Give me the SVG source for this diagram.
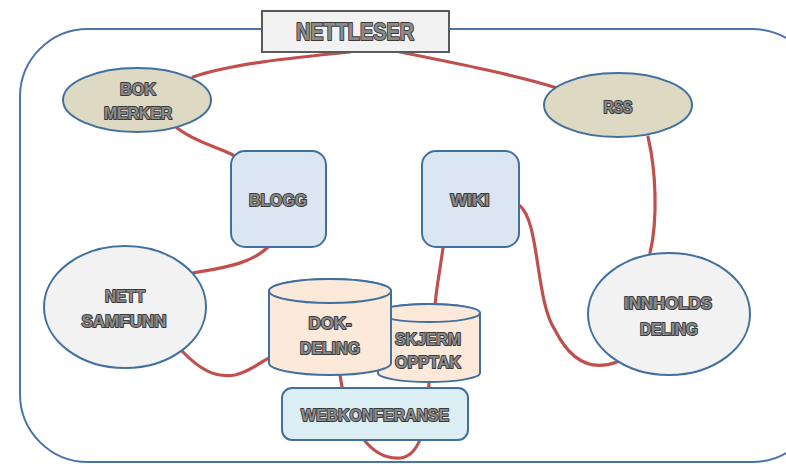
<svg xmlns="http://www.w3.org/2000/svg" width="786" height="464" viewBox="0 0 786 464">
<defs>
<style>
.lbl{font-family:"Liberation Sans",Arial,sans-serif;font-weight:bold;fill:#8a8a8a;stroke:#3a3a3a;stroke-width:2;paint-order:stroke;text-anchor:middle;stroke-linejoin:round}
.con{fill:none;stroke:#c0504d;stroke-width:3.2;stroke-linecap:round}
.nd{stroke:#41709f;stroke-width:2}
</style>
</defs>
<rect x="0" y="0" width="786" height="464" fill="#ffffff"/>
<rect id="frame" x="20" y="29" width="800" height="433" rx="68" ry="68" fill="none" stroke="#4a74a8" stroke-width="2"/>
<g id="connectors">
<path class="con" d="M350,52 C290,58 230,64 193,77"/>
<path class="con" d="M400,52 C460,64 520,76 557,88"/>
<path class="con" d="M177,128 C195,142 215,146 233,155"/>
<path class="con" d="M648,137 C656,170 658,220 650,253"/>
<path class="con" d="M519,205 C540,220 535,300 555,330 C570,360 590,372 617,362"/>
<path class="con" d="M443,248 C440,270 436,290 435,306"/>
<path class="con" d="M268,247 C250,265 220,268 193,273"/>
<path class="con" d="M181,350 C200,370 215,378 235,375 C250,372 260,362 269,358"/>
<path class="con" d="M340,375 C348,430 372,460 400,458 C422,456 428,420 429,382"/>
</g>
<g id="nettleser">
<rect x="262" y="11" width="187" height="41" fill="#f2f2f2" stroke="#5a5a5a" stroke-width="2"/>
<text class="lbl" x="355" y="40" font-size="23" textLength="118" lengthAdjust="spacingAndGlyphs">NETTLESER</text>
</g>
<g id="bokmerker">
<ellipse class="nd" cx="137" cy="100" rx="74" ry="32" fill="#ddd9c3"/>
<text class="lbl" x="138" y="95" font-size="17" textLength="36" lengthAdjust="spacingAndGlyphs">BOK</text>
<text class="lbl" x="138" y="119" font-size="17" textLength="68" lengthAdjust="spacingAndGlyphs">MERKER</text>
</g>
<g id="rss">
<ellipse class="nd" cx="618" cy="105" rx="74" ry="32" fill="#ddd9c3"/>
<text class="lbl" x="618" y="113" font-size="16" textLength="29" lengthAdjust="spacingAndGlyphs">RSS</text>
</g>
<g id="blogg">
<rect class="nd" x="231" y="151" width="95" height="96" rx="14" fill="#dce6f2"/>
<text class="lbl" x="278" y="206" font-size="17" textLength="58" lengthAdjust="spacingAndGlyphs">BLOGG</text>
</g>
<g id="wiki">
<rect class="nd" x="422" y="151" width="97" height="96" rx="14" fill="#dce6f2"/>
<text class="lbl" x="470" y="206" font-size="16" textLength="39" lengthAdjust="spacingAndGlyphs">WIKI</text>
</g>
<g id="nettsamfunn">
<ellipse class="nd" cx="125" cy="307" rx="81" ry="61" fill="#f2f2f2"/>
<text class="lbl" x="125" y="302" font-size="17" textLength="40" lengthAdjust="spacingAndGlyphs">NETT</text>
<text class="lbl" x="124" y="327" font-size="17" textLength="85" lengthAdjust="spacingAndGlyphs">SAMFUNN</text>
</g>
<g id="innholdsdeling">
<ellipse class="nd" cx="669" cy="314" rx="81" ry="61" fill="#f2f2f2"/>
<text class="lbl" x="668" y="309" font-size="17" textLength="88" lengthAdjust="spacingAndGlyphs">INNHOLDS</text>
<text class="lbl" x="669" y="335" font-size="17" textLength="58" lengthAdjust="spacingAndGlyphs">DELING</text>
</g>
<g id="skjermopptak">
<path class="nd" d="M378,313 L378,373 A51,9 0 0 0 480,373 L480,313 A51,9 0 0 0 378,313 Z" fill="#fde9d9"/>
<ellipse class="nd" cx="429" cy="313" rx="51" ry="9" fill="#fde9d9"/>
<text class="lbl" x="428" y="345" font-size="17" textLength="66" lengthAdjust="spacingAndGlyphs">SKJERM</text>
<text class="lbl" x="428" y="368" font-size="17" textLength="66" lengthAdjust="spacingAndGlyphs">OPPTAK</text>
</g>
<g id="dokdeling">
<path class="nd" d="M269,291 L269,363 A61,12 0 0 0 391,363 L391,291 A61,12 0 0 0 269,291 Z" fill="#fde9d9"/>
<ellipse class="nd" cx="330" cy="291" rx="61" ry="12" fill="#fde9d9"/>
<text class="lbl" x="330" y="329" font-size="17" textLength="43" lengthAdjust="spacingAndGlyphs">DOK-</text>
<text class="lbl" x="330" y="354" font-size="17" textLength="60" lengthAdjust="spacingAndGlyphs">DELING</text>
</g>
<g id="webkonferanse">
<rect class="nd" x="282" y="388" width="186" height="52" rx="10" fill="#dbeef4"/>
<text class="lbl" x="375" y="421" font-size="17" textLength="148" lengthAdjust="spacingAndGlyphs">WEBKONFERANSE</text>
</g>
</svg>
